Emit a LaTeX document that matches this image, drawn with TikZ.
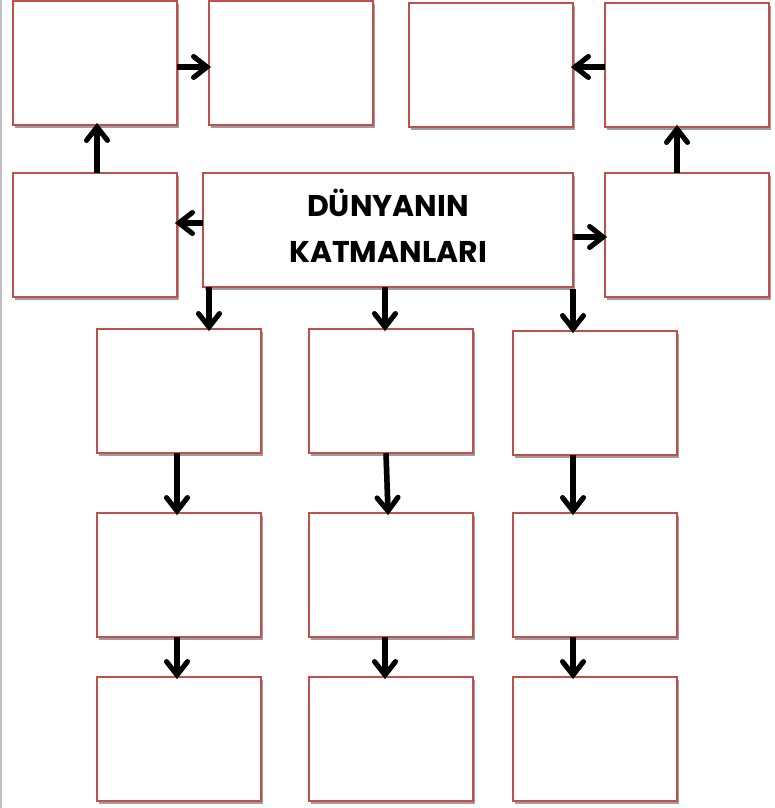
\documentclass[tikz,border=0pt]{standalone}
\usepackage{fontspec}
\setmainfont{Poppins}
\usetikzlibrary{calc,shadows}
\definecolor{bred}{HTML}{C0504D}
\tikzset{
  box/.style={draw=bred, line width=2pt, fill=white, minimum width=164pt, minimum height=124pt,
    inner sep=0pt, outer sep=0pt, anchor=north west,
    general shadow={shadow xshift=2pt, shadow yshift=-3pt, fill=black!38}},
  arrline/.style={line width=5.5pt, line cap=butt, line join=round},
  headline/.style={line width=5pt, line cap=round, line join=miter},
  arr/.style={black},
  arrsh/.style={black!40},
}
\newcommand{\myarr}[2]{%
  \begin{scope}[shift={(2,3)}]
  \draw[arrline,arrsh] (#1) -- (#2);
  \draw[headline,arrsh] ($(#2)!17pt!38:(#1)$) -- (#2) -- ($(#2)!17pt!-38:(#1)$);
  \end{scope}
  \draw[arrline,arr] (#1) -- (#2);
  \draw[headline,arr] ($(#2)!17pt!38:(#1)$) -- (#2) -- ($(#2)!17pt!-38:(#1)$);}
\begin{document}
\begin{tikzpicture}[x=1pt,y=-1pt]
\useasboundingbox (0,0) rectangle (774,808);
\fill[white] (0,0) rectangle (774,808);
\draw[black!25, line width=1.3pt] (1,0) -- (1,808);
% row 1
\node[box] (A) at (13,1) {};
\node[box] (B) at (209,1) {};
\node[box] (C) at (409,3) {};
\node[box] (D) at (605,3) {};
% row 2
\node[box] (E) at (13,173) {};
\node[box, minimum width=370pt, minimum height=114pt] (M) at (203,173) {};
\node[box] (F) at (605,173) {};
\node[font=\fontsize{30}{46}\selectfont\bfseries, align=center] (T) at (388,226) {DÜNYANIN\\KATMANLARI};
% row 3
\node[box] (G1) at (97,329) {};
\node[box] (G2) at (309,329) {};
\node[box] (G3) at (513,331) {};
% row 4
\node[box] (H1) at (97,513) {};
\node[box] (H2) at (309,513) {};
\node[box] (H3) at (513,513) {};
% row 5
\node[box] (K1) at (97,677) {};
\node[box] (K2) at (309,677) {};
\node[box] (K3) at (513,677) {};
% arrows
\coordinate (a1) at (A.east |- 0,67); \coordinate (a2) at ([xshift=-2]B.west |- 0,67);
\myarr{a1}{a2}
\coordinate (d1) at (D.west |- 0,67); \coordinate (d2) at ([xshift=2]C.east |- 0,67);
\myarr{d1}{d2}
\coordinate (e1) at (97,173); \coordinate (e2) at (97,127);
\myarr{e1}{e2}
\coordinate (f1) at (677,173); \coordinate (f2) at (677,129);
\myarr{f1}{f2}
\coordinate (m1) at (M.west |- 0,223); \coordinate (m2) at ([xshift=2]E.east |- 0,223);
\myarr{m1}{m2}
\coordinate (m3) at (M.east |- 0,237); \coordinate (m4) at ([xshift=-2]F.west |- 0,237);
\myarr{m3}{m4}
\coordinate (s1) at (209,287); \coordinate (t1) at (209,327);
\myarr{s1}{t1}
\coordinate (s2) at (385,287); \coordinate (t2) at (385,327);
\myarr{s2}{t2}
\coordinate (s3) at (573,289); \coordinate (t3) at (573,329);
\myarr{s3}{t3}
\coordinate (u1) at (177,453); \coordinate (v1) at (177,511);
\myarr{u1}{v1}
\coordinate (u2) at (386,453); \coordinate (v2) at (388,511);
\myarr{u2}{v2}
\coordinate (u3) at (573,455); \coordinate (v3) at (573,511);
\myarr{u3}{v3}
\coordinate (w1) at (177,637); \coordinate (x1) at (177,675);
\myarr{w1}{x1}
\coordinate (w2) at (385,637); \coordinate (x2) at (385,675);
\myarr{w2}{x2}
\coordinate (w3) at (573,637); \coordinate (x3) at (573,675);
\myarr{w3}{x3}
\end{tikzpicture}
\end{document}
